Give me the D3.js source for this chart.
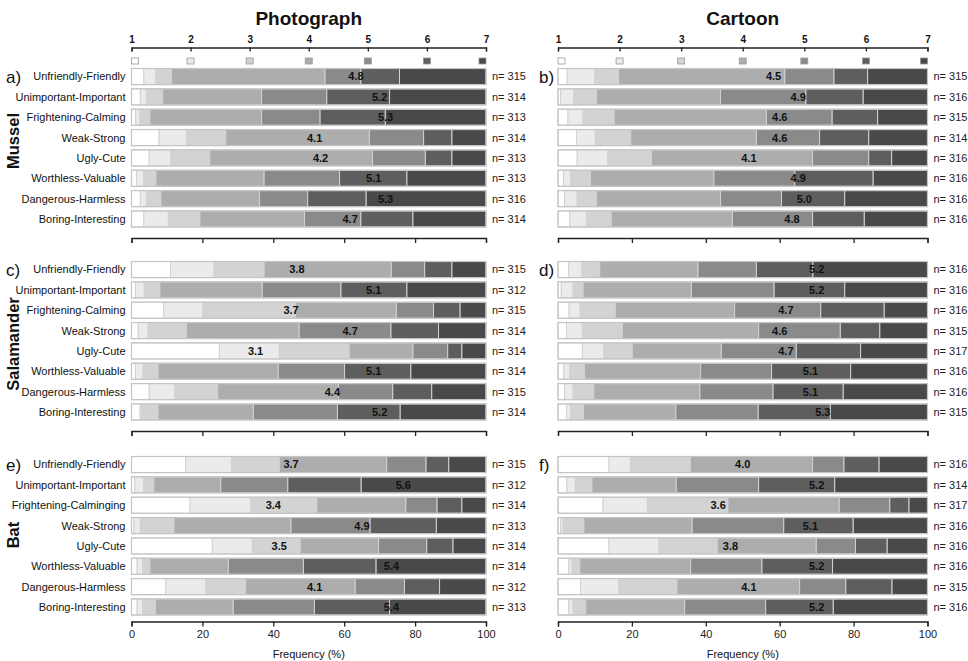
<!DOCTYPE html>
<html>
<head>
<meta charset="utf-8">
<script src="https://cdn.jsdelivr.net/npm/d3@7"></script>
<style>
  html, body { margin: 0; padding: 0; background: #fff; }
  svg text { font-family: "Liberation Sans", Arial, sans-serif; }
</style>
</head>
<body>
<div id="chart"></div>
<script>
// Adjective pairs (rows)
const items = ["Unfriendly-Friendly", "Unimportant-Important", "Frightening-Calming", "Weak-Strong",
  "Ugly-Cute", "Worthless-Valuable", "Dangerous-Harmless", "Boring-Interesting"];
const itemsBat = ["Unfriendly-Friendly", "Unimportant-Important", "Frightening-Calminging", "Weak-Strong",
  "Ugly-Cute", "Worthless-Valuable", "Dangerous-Harmless", "Boring-Interesting"];
const levels = [1, 2, 3, 4, 5, 6, 7];
const freqTicks = [0, 20, 40, 60, 80, 100];

// % of answers per level 1..7, one row per adjective pair
const musselPhoto = [
  [3.5, 3.4, 4.4, 43.3, 10.1, 10.9, 24.4],
  [2.5, 1.7, 4.6, 27.9, 18.4, 17.7, 27.2],
  [1.2, 1.2, 2.8, 31.5, 16.5, 18.4, 28.4],
  [7.8, 7.7, 11.1, 40.5, 15.3, 8.0, 9.6],
  [5.0, 6.0, 11.1, 45.9, 14.9, 7.5, 9.6],
  [1.4, 2.1, 3.4, 30.5, 21.3, 19.0, 22.3],
  [2.5, 1.7, 4.1, 27.8, 13.6, 16.5, 33.8],
  [3.5, 6.9, 8.9, 29.5, 15.9, 14.7, 20.6]
];
const musselCartoon = [
  [2.5, 7.4, 6.5, 45.0, 13.3, 9.1, 16.2],
  [0.7, 3.6, 6.1, 33.6, 23.1, 15.5, 17.4],
  [2.7, 4.1, 8.4, 41.2, 17.8, 12.3, 13.5],
  [5.0, 5.1, 9.6, 34.0, 17.1, 13.3, 15.9],
  [5.2, 8.3, 11.8, 43.6, 15.2, 6.2, 9.7],
  [1.5, 1.9, 5.4, 33.4, 21.9, 21.2, 14.7],
  [1.8, 3.4, 5.2, 33.6, 16.5, 17.1, 22.4],
  [3.2, 4.5, 6.7, 32.8, 21.7, 14.0, 17.1]
];
const salamanderPhoto = [
  [11.0, 12.3, 14.1, 35.9, 9.4, 7.7, 9.6],
  [1.1, 2.5, 4.4, 28.9, 22.2, 18.6, 22.3],
  [9.1, 11.0, 26.2, 28.4, 10.5, 7.5, 7.3],
  [1.9, 2.8, 10.8, 31.8, 25.9, 13.4, 13.4],
  [24.8, 16.9, 19.7, 18.0, 9.8, 4.0, 6.8],
  [1.1, 2.2, 4.2, 33.9, 18.7, 18.7, 21.2],
  [5.0, 7.2, 12.1, 34.1, 15.3, 11.0, 15.3],
  [2.4, 0.4, 4.7, 26.9, 23.7, 17.7, 24.2]
];
const salamanderCartoon = [
  [2.9, 3.6, 4.8, 26.6, 15.8, 15.3, 31.0],
  [0.9, 3.2, 2.7, 29.3, 22.4, 19.1, 22.4],
  [3.0, 3.0, 9.5, 32.3, 23.3, 17.2, 11.7],
  [2.3, 4.3, 10.8, 36.9, 22.1, 10.7, 12.9],
  [6.6, 5.8, 7.7, 24.1, 20.3, 17.4, 18.1],
  [1.6, 1.6, 4.0, 31.4, 19.2, 21.4, 20.8],
  [1.8, 2.3, 5.6, 28.7, 19.8, 19.0, 22.8],
  [2.3, 1.1, 3.5, 25.0, 22.3, 19.5, 26.3]
];
const batPhoto = [
  [15.3, 12.9, 13.5, 30.3, 11.1, 6.4, 10.5],
  [0.9, 2.6, 2.8, 18.9, 18.9, 20.7, 35.2],
  [16.5, 17.2, 18.6, 25.1, 8.8, 7.0, 6.8],
  [0.7, 1.8, 9.5, 33.0, 22.3, 18.7, 14.0],
  [22.8, 11.3, 13.5, 22.1, 13.6, 7.4, 9.3],
  [1.6, 1.5, 2.1, 22.1, 21.2, 20.5, 31.0],
  [9.7, 11.3, 11.2, 30.9, 13.9, 9.9, 13.1],
  [1.6, 1.5, 3.7, 21.9, 22.9, 21.2, 27.2]
];
const batCartoon = [
  [13.8, 5.8, 16.2, 33.1, 8.5, 9.5, 13.1],
  [2.4, 2.3, 4.5, 22.8, 22.3, 20.6, 25.1],
  [12.2, 12.0, 21.8, 30.1, 13.7, 5.2, 5.0],
  [0.7, 0.7, 5.6, 29.3, 24.8, 18.8, 20.1],
  [13.8, 13.5, 15.8, 26.8, 10.6, 8.6, 10.9],
  [2.9, 0.9, 2.1, 30.0, 19.3, 19.1, 25.7],
  [6.1, 10.3, 15.8, 33.2, 12.5, 12.5, 9.6],
  [2.9, 1.2, 3.4, 26.8, 21.9, 18.3, 25.5]
];

// mean scores
const meanMusselPhoto = [4.8, 5.2, 5.3, 4.1, 4.2, 5.1, 5.3, 4.7];
const meanMusselCartoon = [4.5, 4.9, 4.6, 4.6, 4.1, 4.9, 5.0, 4.8];
const meanSalamanderPhoto = [3.8, 5.1, 3.7, 4.7, 3.1, 5.1, 4.4, 5.2];
const meanSalamanderCartoon = [5.2, 5.2, 4.7, 4.6, 4.7, 5.1, 5.1, 5.3];
const meanBatPhoto = [3.7, 5.6, 3.4, 4.9, 3.5, 5.4, 4.1, 5.4];
const meanBatCartoon = [4.0, 5.2, 3.6, 5.1, 3.8, 5.2, 4.1, 5.2];

// sample sizes
const nMusselPhoto = [315, 314, 313, 314, 313, 313, 316, 314];
const nMusselCartoon = [315, 316, 315, 314, 316, 316, 316, 316];
const nSalamanderPhoto = [315, 312, 315, 314, 314, 314, 315, 314];
const nSalamanderCartoon = [316, 316, 316, 315, 317, 316, 316, 315];
const nBatPhoto = [315, 312, 314, 313, 314, 314, 312, 313];
const nBatCartoon = [316, 314, 317, 316, 316, 316, 315, 316];

const columns = ["Photograph", "Cartoon"];
const species = ["Mussel", "Salamander", "Bat"];

// gray ramp for the 7 levels
const levelColors = ["#ffffff", "#ebebeb", "#d3d3d3", "#adadad", "#8a8a8a", "#5e5e5e", "#494949"];

// layout
const colX = [[131.5, 486], [558, 927.5]];
const rowY = [68.5, 261.5, 456.5];
const speciesY = [141, 344, 535];
const blockH = 158.5;

const svg = d3.select("#chart").append("svg")
  .attr("width", 968)
  .attr("height", 661);

const panels = [
  { r: 0, c: 0, letter: "a)", labels: items, values: musselPhoto, means: meanMusselPhoto, n: nMusselPhoto },
  { r: 0, c: 1, letter: "b)", labels: items, values: musselCartoon, means: meanMusselCartoon, n: nMusselCartoon },
  { r: 1, c: 0, letter: "c)", labels: items, values: salamanderPhoto, means: meanSalamanderPhoto, n: nSalamanderPhoto },
  { r: 1, c: 1, letter: "d)", labels: items, values: salamanderCartoon, means: meanSalamanderCartoon, n: nSalamanderCartoon },
  { r: 2, c: 0, letter: "e)", labels: itemsBat, values: batPhoto, means: meanBatPhoto, n: nBatPhoto },
  { r: 2, c: 1, letter: "f)", labels: itemsBat, values: batCartoon, means: meanBatCartoon, n: nBatCartoon }
];

// column titles + 1..7 scale with legend squares
columns.forEach((title, c) => {
  const [x0, x1] = colX[c];
  svg.append("text")
    .attr("x", (x0 + x1) / 2)
    .attr("y", 25)
    .attr("text-anchor", "middle")
    .attr("font-size", "19px")
    .attr("font-weight", "bold")
    .attr("fill", "#111")
    .text(title);

  const lv = d3.scaleLinear().domain([1, 7]).range([x0, x1]);
  const top = svg.append("g")
    .attr("transform", "translate(0,47.5)")
    .attr("color", "#222")
    .call(d3.axisTop(lv).tickValues(levels).tickFormat(d3.format("d"))
      .tickSizeInner(-4).tickSizeOuter(-4).tickPadding(5));
  top.selectAll("text").attr("font-size", "10px").attr("font-weight", "bold").style("fill", "#111");
  top.selectAll("path, line").attr("stroke", "#222").attr("stroke-width", 1.3);

  svg.append("g").selectAll("rect")
    .data(levels)
    .join("rect")
    .attr("x", d => Math.min(Math.max(lv(d) - 3.5, x0), x1 - 7))
    .attr("y", 58)
    .attr("width", 7)
    .attr("height", 6)
    .attr("fill", (d, i) => levelColors[i])
    .attr("stroke", "#9a9a9a")
    .attr("stroke-width", 0.8);
});

// species labels (rotated)
species.forEach((s, r) => {
  svg.append("text")
    .attr("transform", `translate(19,${speciesY[r]}) rotate(-90)`)
    .attr("text-anchor", "middle")
    .attr("font-size", "16.5px")
    .attr("font-weight", "bold")
    .attr("fill", "#111")
    .text(s);
});

panels.forEach(p => {
  const [x0, x1] = colX[p.c];
  const y0 = rowY[p.r];
  const x = d3.scaleLinear().domain([0, 100]).range([x0, x1]);
  const lv = d3.scaleLinear().domain([1, 7]).range([x0, x1]);
  const y = d3.scaleBand().domain(d3.range(8)).range([y0, y0 + blockH]).paddingInner(0.21);
  const g = svg.append("g");

  const stacked = d3.stack().keys(d3.range(7)).value((d, k) => d[k])(p.values);

  stacked.forEach((layer, k) => {
    g.append("g").selectAll("rect")
      .data(layer)
      .join("rect")
      .attr("x", d => x(d[0]))
      .attr("y", (d, i) => y(i))
      .attr("width", d => Math.max(0, x(d[1]) - x(d[0])))
      .attr("height", y.bandwidth())
      .attr("fill", levelColors[k])
      .attr("stroke", "#d2d2d2")
      .attr("stroke-width", 1);
  });

  // bar outline
  g.append("g").selectAll("rect")
    .data(p.values)
    .join("rect")
    .attr("x", x(0))
    .attr("y", (d, i) => y(i))
    .attr("width", x(100) - x(0))
    .attr("height", y.bandwidth())
    .attr("fill", "none")
    .attr("stroke", "#c4c4c4")
    .attr("stroke-width", 1.2);

  // mean score placed on the 1..7 scale
  g.append("g").selectAll("text")
    .data(p.means)
    .join("text")
    .attr("x", d => lv(d))
    .attr("y", (d, i) => y(i) + y.bandwidth() / 2)
    .attr("dy", "0.36em")
    .attr("text-anchor", "middle")
    .attr("font-size", "11px")
    .attr("font-weight", "bold")
    .attr("fill", "#111")
    .text(d => d.toFixed(1));

  // n labels
  g.append("g").selectAll("text")
    .data(p.n)
    .join("text")
    .attr("x", x1 + 6)
    .attr("y", (d, i) => y(i) + y.bandwidth() / 2)
    .attr("dy", "0.36em")
    .attr("font-size", "11px")
    .attr("fill", "#222")
    .text(d => "n= " + d);

  // item labels only on the left column
  if (p.c === 0) {
    g.append("g").selectAll("text")
      .data(p.labels)
      .join("text")
      .attr("x", x0 - 6)
      .attr("y", (d, i) => y(i) + y.bandwidth() / 2)
      .attr("dy", "0.36em")
      .attr("text-anchor", "end")
      .attr("font-size", "11px")
      .attr("fill", "#111")
      .text(d => d);
  }

  // panel letter
  g.append("text")
    .attr("x", p.c === 0 ? 6 : x0 - 19)
    .attr("y", y(0) + y.bandwidth() / 2)
    .attr("dy", "0.36em")
    .attr("font-size", "17px")
    .attr("fill", "#111")
    .text(p.letter);

  // frequency axis under each block
  const bottom = p.r === 2;
  const ax = g.append("g")
    .attr("transform", `translate(0,${y0 + blockH + (bottom ? 6.5 : 11)})`)
    .attr("color", "#222")
    .call(d3.axisBottom(x).tickValues(freqTicks)
      .tickFormat(bottom ? d3.format("d") : () => "")
      .tickSizeInner(5).tickSizeOuter(5).tickPadding(4));
  ax.selectAll("text").attr("font-size", "11px").style("fill", "#222");
  ax.selectAll("path, line").attr("stroke", "#222").attr("stroke-width", 1.3);

  if (bottom) {
    g.append("text")
      .attr("x", (x0 + x1) / 2)
      .attr("y", 658)
      .attr("text-anchor", "middle")
      .attr("font-size", "11px")
      .attr("fill", "#111")
      .text("Frequency (%)");
  }
});
</script>
</body>
</html>
